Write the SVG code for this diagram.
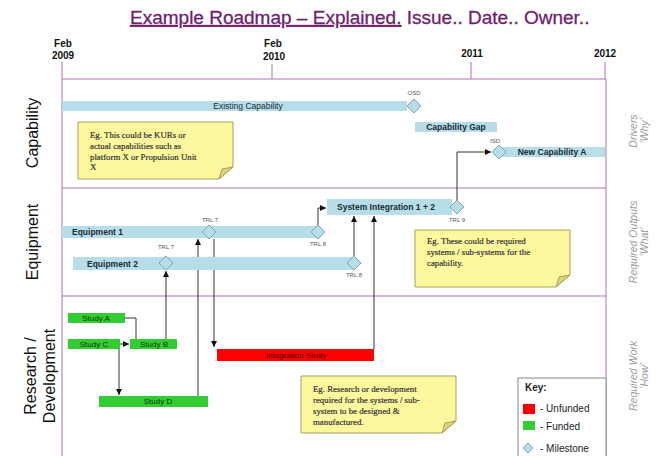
<svg xmlns="http://www.w3.org/2000/svg" width="656" height="456" viewBox="0 0 656 456">
<defs>
<style>
.title{font-family:"Liberation Sans",Arial,sans-serif;font-size:19px;fill:#6e226e;stroke:#6e226e;stroke-width:0.3}
.yr{font-family:"Liberation Sans",Arial,sans-serif;font-size:10px;font-weight:bold;fill:#111;text-anchor:middle}
.frame{stroke:#ab74ab;stroke-width:1;fill:none}
.lane{font-family:"Liberation Sans",Arial,sans-serif;font-size:16px;fill:#111;text-anchor:middle}
.side{font-family:"Liberation Sans",Arial,sans-serif;font-size:10.5px;font-style:italic;fill:#9a9a9a;text-anchor:middle}
.bar{fill:#b7dde8}
.dia{fill:#b7dde8;stroke:#7fa6b6;stroke-width:1}
.bt{font-family:"Liberation Sans",Arial,sans-serif;font-size:8.5px;fill:#1a2a33;text-anchor:middle}
.bb{font-weight:bold}
.ms{font-family:"Liberation Sans",Arial,sans-serif;font-size:6px;fill:#555;text-anchor:middle}
.fund{fill:#33cc33}
.unf{fill:#ff0000}
.st{font-family:"Liberation Sans",Arial,sans-serif;font-size:8px;fill:#0a3a0a;text-anchor:middle}
.note{fill:#fdf89e;stroke:#a8a060;stroke-width:1}
.fold{fill:#ddd37a;stroke:#a8a060;stroke-width:1}
.nt{font-family:"Liberation Serif","Times New Roman",serif;font-size:8.8px;fill:#333;stroke:#333;stroke-width:0.2}
.con{stroke:#333;stroke-width:1;fill:none}
.key{font-family:"Liberation Sans",Arial,sans-serif;font-size:10px;fill:#222}
</style>
<marker id="ar" markerUnits="userSpaceOnUse" markerWidth="6" markerHeight="6" refX="6" refY="3" orient="auto">
<path d="M0,0 L6,3 L0,6 Z" fill="#111"/>
</marker>
</defs>
<rect width="656" height="456" fill="#fff"/>

<g id="title">
<text class="title" x="130" y="24"><tspan text-decoration="underline">Example Roadmap – Explained.</tspan> Issue.. Date.. Owner..</text>
</g>

<g id="timeline">
<text class="yr" x="63" y="47">Feb</text><text class="yr" x="63" y="59">2009</text>
<text class="yr" x="273" y="47">Feb</text><text class="yr" x="274" y="60">2010</text>
<text class="yr" x="472" y="57">2011</text>
<text class="yr" x="605" y="57">2012</text>
<path class="frame" d="M62,62 V79 M272,64 V79 M471,62 V79 M605,62 V79"/>
</g>

<g id="frame">
<path class="frame" d="M62,79 H606 M62,79 V456 M606,79 V456 M62,188 H606 M62,296 H606"/>
</g>

<g id="lanes">
<text class="lane" transform="translate(38,133) rotate(-90)">Capability</text>
<text class="lane" transform="translate(38,242) rotate(-90)">Equipment</text>
<text class="lane" transform="translate(36,376) rotate(-90)">Research /<tspan x="0" dy="19">Development</tspan></text>
<text class="side" transform="translate(637,131) rotate(-90)">Drivers<tspan x="0" dy="11">‘Why’</tspan></text>
<text class="side" transform="translate(637,242) rotate(-90)">Required Outputs<tspan x="0" dy="11">‘What’</tspan></text>
<text class="side" transform="translate(637,376) rotate(-90)">Required Work<tspan x="0" dy="11">‘How’</tspan></text>
</g>

<g id="connectors">
<path class="con" d="M457,200 V152 H491" marker-end="url(#ar)"/>
<path class="con" d="M318,225 V208 H326" marker-end="url(#ar)"/>
<path class="con" d="M354,256 V216" marker-end="url(#ar)"/>
<path class="con" d="M374,349 V216" marker-end="url(#ar)"/>
<path class="con" d="M173,263 H214"/>
<path class="con" d="M214,239 V347" marker-end="url(#ar)"/>
<path class="con" d="M198,396 V239" marker-end="url(#ar)"/>
<path class="con" d="M166,339 V271" marker-end="url(#ar)"/>
<path class="con" d="M125,318 H136 V339"/>
<path class="con" d="M120,344 H129" marker-end="url(#ar)"/>
<path class="con" d="M119,349 V395" marker-end="url(#ar)"/>
</g>

<g id="existing-capability">
<rect class="bar" x="62" y="101" width="345" height="10"/>
<text class="bt" x="248" y="109">Existing Capability</text>
<path class="dia" d="M414,99 L421,106 L414,113 L407,106 Z"/>
<text class="ms" x="414" y="95">OSD</text>
</g>

<g id="capability-gap">
<rect class="bar" x="415" y="122" width="82" height="10"/>
<text class="bt bb" x="456" y="130">Capability Gap</text>
</g>

<g id="new-capability-a">
<rect class="bar" x="502" y="147" width="103" height="10"/>
<text class="bt bb" x="552" y="155">New Capability A</text>
<path class="dia" d="M499,145 L506,152 L499,159 L492,152 Z"/>
<text class="ms" x="495" y="143">ISD</text>
</g>

<g id="equipment-1">
<rect class="bar" x="62" y="226" width="256" height="12"/>
<text class="bt bb" x="72" y="235" style="text-anchor:start">Equipment 1</text>
<path class="dia" d="M209,225 L216,232 L209,239 L202,232 Z"/>
<text class="ms" x="210" y="222">TRL 7</text>
<path class="dia" d="M318,225 L325,232 L318,239 L311,232 Z"/>
<text class="ms" x="318" y="246">TRL 8</text>
</g>

<g id="equipment-2">
<rect class="bar" x="73" y="257" width="280" height="13"/>
<text class="bt bb" x="87" y="267" style="text-anchor:start">Equipment 2</text>
<path class="dia" d="M166,256 L173,263 L166,270 L159,263 Z"/>
<text class="ms" x="166" y="249">TRL 7</text>
<path class="dia" d="M354,256 L361,263 L354,270 L347,263 Z"/>
<text class="ms" x="354" y="277">TRL 8</text>
</g>

<g id="system-integration">
<rect class="bar" x="327" y="199" width="125" height="16"/>
<text class="bt bb" x="386" y="210">System Integration 1 + 2</text>
<path class="dia" d="M457,200 L464,207 L457,214 L450,207 Z"/>
<text class="ms" x="457" y="222">TRL 9</text>
</g>

<g id="study-a">
<rect class="fund" x="68" y="313" width="57" height="10"/>
<text class="st" x="96" y="321">Study A</text>
</g>
<g id="study-c">
<rect class="fund" x="68" y="339" width="52" height="10"/>
<text class="st" x="94" y="347">Study C</text>
</g>
<g id="study-b">
<rect class="fund" x="130" y="339" width="47" height="10"/>
<text class="st" x="154" y="347">Study B</text>
</g>
<g id="study-d">
<rect class="fund" x="99" y="396" width="109" height="11"/>
<text class="st" x="158" y="404">Study D</text>
</g>
<g id="integration-study">
<rect class="unf" x="217" y="349" width="157" height="12"/>
<text class="st" x="296" y="358" style="fill:#400">Integration Study</text>
</g>

<g id="note-capability">
<path class="note" d="M78,122 H233 V167 L219,179 H78 Z"/>
<path class="fold" d="M219,179 L222,169 L233,167 Z"/>
<text class="nt" x="90" y="138">Eg. This could be KURs or</text>
<text class="nt" x="90" y="149">actual capabilities such as</text>
<text class="nt" x="90" y="160">platform X or Propulsion Unit</text>
<text class="nt" x="90" y="170">X</text>
</g>

<g id="note-equipment">
<path class="note" d="M415,230 H570 V275 L556,287 H415 Z"/>
<path class="fold" d="M556,287 L559,277 L570,275 Z"/>
<text class="nt" x="427" y="244">Eg. These could be required</text>
<text class="nt" x="427" y="255">systems / sub-systems for the</text>
<text class="nt" x="427" y="266">capability.</text>
</g>

<g id="note-research">
<path class="note" d="M301,376 H456 V421 L442,433 H301 Z"/>
<path class="fold" d="M442,433 L445,423 L456,421 Z"/>
<text class="nt" x="313" y="392">Eg. Research or development</text>
<text class="nt" x="313" y="403">required for the systems / sub-</text>
<text class="nt" x="313" y="414">system to be designed &amp;</text>
<text class="nt" x="313" y="425">manufactured.</text>
</g>

<g id="key">
<rect x="518" y="378" width="88" height="82" fill="#fff" stroke="#888" stroke-width="1"/>
<text class="key" x="525" y="391" font-weight="bold">Key:</text>
<rect class="unf" x="523" y="404" width="12" height="10"/>
<text class="key" x="540" y="412">- Unfunded</text>
<rect class="fund" x="523" y="421" width="12" height="9"/>
<text class="key" x="540" y="430">- Funded</text>
<path class="dia" d="M528,443 L533,448 L528,453 L523,448 Z"/>
<text class="key" x="540" y="452">- Milestone</text>
</g>
</svg>
